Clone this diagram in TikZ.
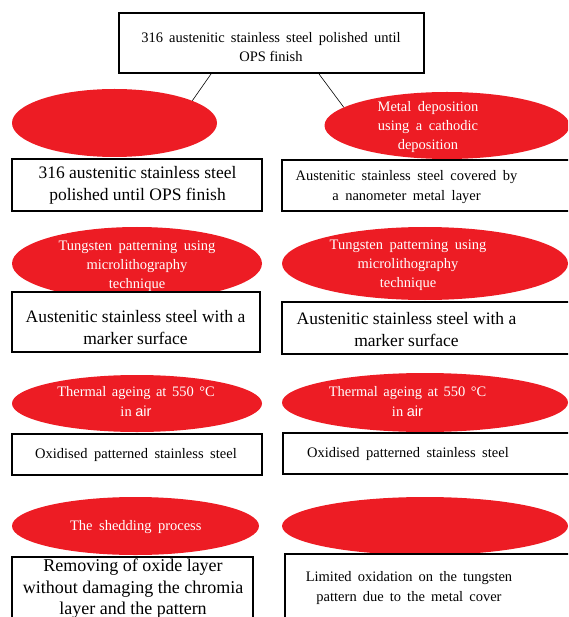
\documentclass[tikz,border=0pt]{standalone}
\usepackage{fontspec}
\setmainfont{Liberation Serif}
\newfontfamily\airfont{Liberation Sans}
\newcommand\wsp[1]{\spaceskip=#1em\relax}
\usetikzlibrary{shapes.geometric}
\definecolor{myred}{HTML}{ED1C24}
\begin{document}
\begin{tikzpicture}[x=1pt,y=-1pt,
  redell/.style={ellipse, fill=myred, draw=none, inner sep=0pt},
  box/.style={rectangle, draw=black, line width=1.6pt, fill=white, inner sep=0pt},
  etext/.style={text=white, align=center, inner sep=0pt, font=\fontsize{14.5}{19}\selectfont},
  btext/.style={align=center, inner sep=0pt, font=\fontsize{14.5}{20}\selectfont},
  bbig/.style={align=center, inner sep=0pt, font=\fontsize{17.5}{22}\selectfont},
  conn/.style={line width=0.6pt}]
\useasboundingbox (0,0) rectangle (568,617);
\clip (0,0) rectangle (568,617);

% top box
\node[box, line width=2pt, minimum width=305pt, minimum height=60pt] (top) at (271.5,43) {};
\node[btext, font=\fontsize{14.5}{19}\selectfont] (ttop) at (271,47) {\wsp{0.42}316 austenitic stainless steel polished until\\OPS finish};

% row 1
\node[redell, minimum width=205pt, minimum height=68pt] (e1l) at (114.5,123) {};
\node[redell, minimum width=245pt, minimum height=67pt] (e1r) at (447,125.5) {};
\node[etext] (te1r) at (428,127) {\wsp{0.45}Metal deposition\\\wsp{0.45}using a cathodic\\deposition};
\draw[conn] ([xshift=-60.5pt]top.south) -- (e1l.16);
\draw[conn] ([xshift=47.5pt]top.south) -- (e1r.170);

\node[box, minimum width=250pt, minimum height=52pt] (b1l) at (137,185) {};
\node[bbig] (tb1l) at (137.5,185) {316 austenitic stainless steel\\polished until OPS finish};
\node[box, minimum width=318pt, minimum height=51pt] (b1r) at (441,185.5) {};
\node[btext] (tb1r) at (406.5,187) {\wsp{0.45}Austenitic stainless steel covered by\\\wsp{0.45}a nanometer metal layer};

% row 2
\node[redell, minimum width=250pt, minimum height=73pt] (e2l) at (137,263.5) {};
\node[etext] (te2l) at (137,266) {\wsp{0.45}Tungsten patterning using\\microlithography\\technique};
\node[redell, minimum width=286pt, minimum height=73pt] (e2r) at (425,263.5) {};
\node[etext] (te2r) at (408,265) {\wsp{0.45}Tungsten patterning using\\microlithography\\technique};

\node[box, minimum width=248pt, minimum height=60pt] (b2l) at (136,322) {};
\node[bbig] (tb2l) at (135.5,328) {Austenitic stainless steel with a\\marker surface};
\node[box, minimum width=318pt, minimum height=52pt] (b2r) at (441,328) {};
\node[bbig] (tb2r) at (406.5,330) {Austenitic stainless steel with a\\marker surface};

% row 3
\node[redell, minimum width=250pt, minimum height=57pt] (e3l) at (137,403.5) {};
\node[etext, font=\fontsize{14.5}{20}\selectfont] (te3l) at (136,402) {\wsp{0.38}Thermal ageing at 550 °C\\in {\airfont air}};
\node[redell, minimum width=286pt, minimum height=59pt] (e3r) at (425,402.5) {};
\node[etext, font=\fontsize{14.5}{20}\selectfont] (te3r) at (407.5,402) {\wsp{0.38}Thermal ageing at 550 °C\\in {\airfont air}};

\node[box, minimum width=250pt, minimum height=41pt] (b3l) at (137,454.5) {};
\node[btext] (tb3l) at (136,455) {\wsp{0.45}Oxidised patterned stainless steel};
\node[box, minimum width=317pt, minimum height=41pt] (b3r) at (441.5,453.5) {};
\node[btext] (tb3r) at (408,454) {\wsp{0.45}Oxidised patterned stainless steel};

% row 4
\node[redell, minimum width=247pt, minimum height=58pt] (e4l) at (135.5,526) {};
\node[etext] (te4l) at (135.8,527) {\wsp{0.45}The shedding process};
\node[redell, minimum width=286pt, minimum height=58pt] (e4r) at (425,526) {};

\node[box, minimum width=241pt, minimum height=83pt] (b4l) at (132.5,598.5) {};
\node[align=center, inner sep=0pt, font=\fontsize{18}{21.5}\selectfont] (tb4l) at (133,589) {Removing of oxide layer\\without damaging the chromia\\layer and the pattern};
\node[box, minimum width=315pt, minimum height=86pt] (b4r) at (442.5,597) {};
\node[btext, font=\fontsize{14.5}{19.5}\selectfont] (tb4r) at (409,588) {\wsp{0.42}Limited oxidation on the tungsten\\\wsp{0.42}pattern due to the metal cover};
\end{tikzpicture}
\end{document}
